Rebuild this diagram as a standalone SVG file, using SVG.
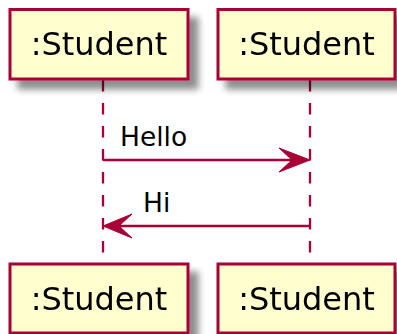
<svg xmlns="http://www.w3.org/2000/svg" width="397" height="334" viewBox="0 0 397 334">
<defs>
<filter id="sh" x="-10%" y="-10%" width="130%" height="140%">
<feGaussianBlur in="SourceAlpha" stdDeviation="3.5"/>
<feOffset dx="9" dy="9" result="b"/>
<feComponentTransfer><feFuncA type="linear" slope="0.45"/></feComponentTransfer>
<feMerge><feMergeNode/><feMergeNode in="SourceGraphic"/></feMerge>
</filter>
<style>
.box{fill:#FEFECE;stroke:#A80036;stroke-width:3}
.pt{font-family:"DejaVu Sans",sans-serif;font-size:32px;fill:#000;text-anchor:middle}
.mt{font-family:"DejaVu Sans",sans-serif;font-size:26.5px;fill:#000}
.life{stroke:#A80036;stroke-width:2.3;stroke-dasharray:11.5,11.5;fill:none}
.msg{stroke:#A80036;stroke-width:2.3;fill:none}
.head{fill:#A80036;stroke:#A80036;stroke-width:1}
</style>
</defs>
<g id="connectors">
<line class="life" x1="103" y1="80" x2="103" y2="264"/>
<line class="life" x1="310" y1="80" x2="310" y2="264"/>
<g id="msg-hello">
<line class="msg" x1="103" y1="160" x2="306" y2="160"/>
<polygon class="head" points="279,148 310,160 279,172 292,160"/>
<text class="mt" x="120" y="146">Hello</text>
</g>
<g id="msg-hi">
<line class="msg" x1="107" y1="226" x2="310" y2="226"/>
<polygon class="head" points="132,214 103,226 132,238 119,226"/>
<text class="mt" x="143" y="212">Hi</text>
</g>
</g>
<g id="student1-top" filter="url(#sh)">
<rect class="box" x="10" y="9.5" width="178" height="69.5"/>
<text class="pt" x="99" y="55">:Student</text>
</g>
<g id="student2-top" filter="url(#sh)">
<rect class="box" x="218" y="9.5" width="177" height="69.5"/>
<text class="pt" x="306.5" y="55">:Student</text>
</g>
<g id="student1-bottom" filter="url(#sh)">
<rect class="box" x="10" y="264" width="178" height="69"/>
<text class="pt" x="99" y="310">:Student</text>
</g>
<g id="student2-bottom" filter="url(#sh)">
<rect class="box" x="218" y="264" width="177" height="69"/>
<text class="pt" x="306.5" y="310">:Student</text>
</g>
</svg>
